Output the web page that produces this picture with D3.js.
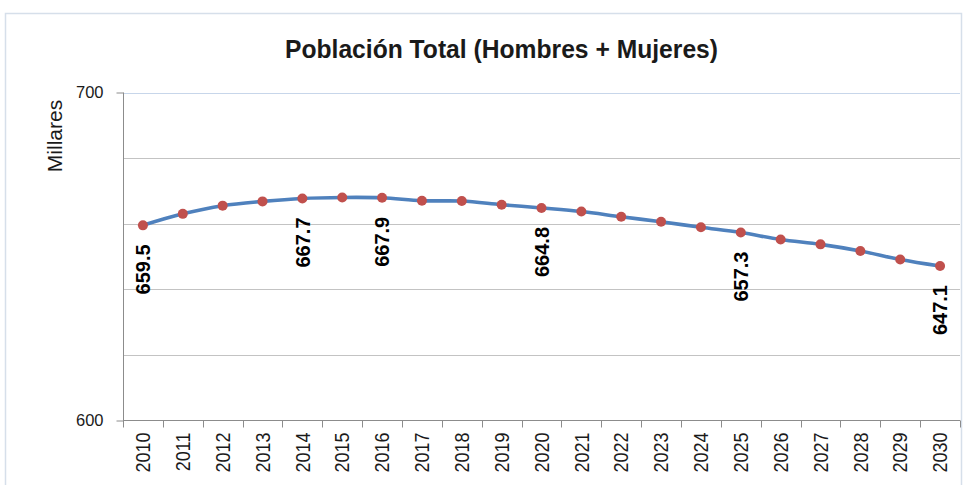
<!DOCTYPE html>
<html>
<head>
<meta charset="utf-8">
<script src="https://cdn.jsdelivr.net/npm/d3@7/dist/d3.min.js"></script>
<style>
  html, body { margin: 0; padding: 0; background: #ffffff; }
  svg { display: block; }
</style>
</head>
<body>
<svg id="chart" width="973" height="485"></svg>
<script>
// Población total proyectada (miles de personas)
const years = ["2010","2011","2012","2013","2014","2015","2016","2017","2018","2019","2020",
               "2021","2022","2023","2024","2025","2026","2027","2028","2029","2030"];
const population = [659.5, 663.0, 665.5, 666.8, 667.7, 668.0, 667.9, 667.0, 666.9, 665.8, 664.8,
                    663.7, 662.1, 660.6, 658.9, 657.3, 655.2, 653.7, 651.7, 649.1, 647.1];
const labeledYears = ["2010","2014","2016","2020","2025","2030"];
const yTickLabels = [600, 700];
const yGridValues = [620, 640, 660, 680];

const svg = d3.select("#chart");
const font = "'Liberation Sans', Arial, sans-serif";

// chart frame
svg.append("rect")
  .attr("x", 5.5).attr("y", 13.5)
  .attr("width", 956).attr("height", 490)
  .attr("fill", "#ffffff")
  .attr("stroke", "#d6dfea").attr("stroke-width", 1.5);

const x = d3.scaleBand().domain(years).range([123, 960]);
const y = d3.scaleLinear().domain([600, 700]).range([420.5, 92.5]);

// gridlines
svg.append("g").selectAll("line").data(yGridValues).join("line")
  .attr("x1", 123).attr("x2", 960)
  .attr("y1", d => Math.round(y(d)) + 0.5).attr("y2", d => Math.round(y(d)) + 0.5)
  .attr("stroke", "#c3c3c3").attr("stroke-width", 1);

// top border of plot area
svg.append("line")
  .attr("x1", 123).attr("x2", 960)
  .attr("y1", Math.round(y(700)) + 0.5).attr("y2", Math.round(y(700)) + 0.5)
  .attr("stroke", "#c7d6ea").attr("stroke-width", 1);

// y axis
const yAxis = d3.axisLeft(y).tickValues(yTickLabels).tickSize(7).tickPadding(13).tickFormat(d3.format("d"));
const gy = svg.append("g").attr("transform", "translate(123.5,0)").call(yAxis);
gy.select(".domain").attr("stroke", "#8c8c8c").attr("d", `M0,${y(700)}V${y(600)}`);
gy.selectAll(".tick line").attr("stroke", "#8c8c8c");
gy.selectAll(".tick text").attr("font-family", font).attr("font-size", 16.5).attr("fill", "#1a1a1a");

// x axis: labels centred in each band, ticks at band edges
const xAxis = d3.axisBottom(x).tickSize(0).tickPadding(12);
const gx = svg.append("g").attr("transform", `translate(0,${y(600)})`).call(xAxis);
gx.select(".domain").attr("stroke", "#8c8c8c").attr("d", `M123,0H960`);
gx.selectAll(".tick text")
  .attr("font-family", font).attr("font-size", 18).attr("fill", "#1a1a1a")
  .attr("text-anchor", "end")
  .attr("transform", "rotate(-90) scale(1,1.12)")
  .attr("x", -12).attr("y", 0).attr("dy", "0.36em");

const edges = years.map(d => x(d)).concat([x(years[years.length - 1]) + x.bandwidth()]);
svg.append("g").selectAll("line").data(edges).join("line")
  .attr("x1", d => Math.round(d) + 0.5).attr("x2", d => Math.round(d) + 0.5)
  .attr("y1", y(600)).attr("y2", y(600) + 7)
  .attr("stroke", "#8c8c8c");

// axis title
svg.append("text")
  .attr("transform", "translate(55,136) rotate(-90)")
  .attr("text-anchor", "middle").attr("dy", "0.35em")
  .attr("font-family", font).attr("font-size", 21).attr("fill", "#1a1a1a")
  .text("Millares");

// chart title
svg.append("text")
  .attr("x", 501.5).attr("y", 58)
  .attr("text-anchor", "middle")
  .attr("textLength", 433).attr("lengthAdjust", "spacingAndGlyphs")
  .attr("font-family", font).attr("font-size", 26).attr("font-weight", "bold").attr("fill", "#1a1a1a")
  .text("Población Total (Hombres + Mujeres)");

// smoothed line
const cx = d => x(d) + x.bandwidth() / 2;
const data = years.map((yr, i) => ({ year: yr, value: population[i] }));
const line = d3.line().x(d => cx(d.year)).y(d => y(d.value)).curve(d3.curveCatmullRom.alpha(0.5));

svg.append("path").datum(data)
  .attr("d", line)
  .attr("fill", "none")
  .attr("stroke", "#4f81bd").attr("stroke-width", 3.6)
  .attr("stroke-linejoin", "round").attr("stroke-linecap", "round");

svg.append("g").selectAll("circle").data(data).join("circle")
  .attr("cx", d => cx(d.year)).attr("cy", d => y(d.value))
  .attr("r", 5).attr("fill", "#c0504d");

// data labels
svg.append("g").selectAll("text").data(data.filter(d => labeledYears.includes(d.year))).join("text")
  .attr("transform", d => `translate(${cx(d.year)},${y(d.value) + 19}) rotate(-90)`)
  .attr("text-anchor", "end").attr("dy", "0.36em")
  .attr("font-family", font).attr("font-size", 20).attr("font-weight", "bold").attr("fill", "#000000")
  .text(d => d.value.toFixed(1));
</script>
</body>
</html>
